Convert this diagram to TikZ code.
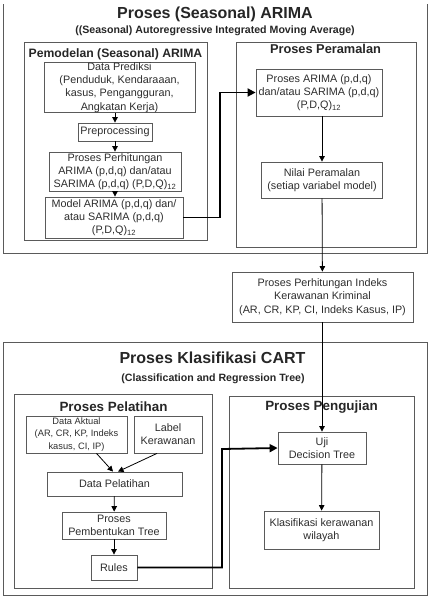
\documentclass[tikz,border=0pt]{standalone}
\usepackage{fontspec}
\setmainfont{Liberation Sans}
\usepackage{tikz}
\usetikzlibrary{arrows.meta}
\tikzstyle{diagram} = [x = 1pt, y = -1pt]
\definecolor{frameColor}{RGB}{90,90,90}
\definecolor{textColor}{RGB}{45,45,45}
\tikzstyle{containerLine} = [color=frameColor, line width=.9pt]
\tikzstyle{boxStyle} = [draw=frameColor, line width=.8pt, inner sep=0pt, align=center, text=textColor, font=\fontsize{10.8}{13.2}\selectfont]
\tikzstyle{smallBoxStyle} = [boxStyle, font=\fontsize{9.3}{12.5}\selectfont]
\tikzstyle{titleText} = [font=\fontsize{16}{18}\selectfont\bfseries, text=black!85]
\tikzstyle{subTitleText} = [font=\fontsize{10.6}{12}\selectfont\bfseries, text=black!85]
\tikzstyle{groupText} = [font=\fontsize{12.2}{14}\selectfont\bfseries, text=black!85]
\tikzstyle{flowArrow} = [-{Triangle[length=5.5pt, width=5.5pt]}, line width=.8pt]
\tikzstyle{jumpArrow} = [-{Triangle[length=8pt, width=8pt]}, line width=1.8pt]
\newcommand{\container}[4]{\draw [containerLine] (#1,#2) rectangle (#3,#4);}
\newcommand{\processBox}[6]{\node [boxStyle, minimum width=#4pt, minimum height=#5pt] (#1) at (#2,#3) {#6};}
\newcommand{\smallBox}[6]{\node [smallBoxStyle, minimum width=#4pt, minimum height=#5pt] (#1) at (#2,#3) {#6};}
\newcommand{\sub}[1]{\textsubscript{#1}}

\begin{document}
\begin{tikzpicture}[diagram]
  \useasboundingbox (0,0) rectangle (431,598);
  % (Seasonal) ARIMA
  \draw [containerLine] (3,4) -- (3,253) -- (427,253) -- (427,4);
  \node [titleText] (arimaTitle) at (215,14) {Proses (Seasonal) ARIMA};
  \node [subTitleText] (arimaSubTitle) at (215,31) {((Seasonal) Autoregressive Integrated Moving Average)};
  \container{24}{42}{207}{240}
  \node [groupText] (pemodelanTitle) at (115.5,54) {Pemodelan (Seasonal) ARIMA};
  \container{236}{42}{416}{247}
  \node [groupText, font=\fontsize{12.8}{14}\selectfont\bfseries] (peramalanTitle) at (325.5,49) {Proses Peramalan};
  \processBox{dataPrediksi}{119.5}{87.5}{151}{49}{Data Prediksi\\(Penduduk, Kendaraaan,\\kasus, Pengangguran,\\Angkatan Kerja)}
  \processBox{preprocessing}{115}{132}{74}{18}{Preprocessing}
  \processBox{perhitungan}{115}{171.5}{132}{39}{Proses Perhitungan\\ARIMA (p,d,q) dan/atau\\SARIMA (p,d,q) (P,D,Q)\sub{12}}
  \processBox{modelArima}{114}{217.5}{138}{41}{Model ARIMA (p,d,q) dan/\\atau SARIMA (p,d,q)\\(P,D,Q)\sub{12}}
  \processBox{prosesArima}{319}{92.5}{126}{47}{Proses ARIMA (p,d,q)\\dan/atau SARIMA (p,d,q)\\(P,D,Q)\sub{12}}
  \processBox{nilaiRamal}{322}{180}{121}{36}{Nilai Peramalan\\(setiap variabel model)}
  % indeks kerawanan
  \processBox{indeksRawan}{322.5}{297}{181}{50}{Proses Perhitungan Indeks\\Kerawanan Kriminal\\(AR, CR, KP, CI, Indeks Kasus, IP)}
  % CART
  \container{3}{342}{427}{595}
  \node [titleText] (cartTitle) at (212.5,358) {Proses Klasifikasi CART};
  \node [subTitleText] (cartSubTitle) at (213,379) {(Classification and Regression Tree)};
  \container{14}{394}{212}{588}
  \node [groupText, font=\fontsize{13.4}{15}\selectfont\bfseries] (pelatihanTitle) at (113.5,407) {Proses Pelatihan};
  \container{229}{396}{414}{588}
  \node [groupText, font=\fontsize{13.4}{15}\selectfont\bfseries] (pengujianTitle) at (321.5,407) {Proses Pengujian};
  \smallBox{dataAktual}{76.5}{434.5}{101}{37}{Data Aktual\\(AR, CR, KP, Indeks\\kasus, CI, IP)}
  \processBox{labelRawan}{168}{434.5}{68}{37}{Label\\Kerawanan}
  \processBox{dataLatih}{114.5}{484}{135}{24}{Data Pelatihan}
  \processBox{bentukTree}{114}{525.5}{104}{27}{Proses\\Pembentukan Tree}
  \processBox{rules}{114}{567.5}{46}{25}{Rules}
  \processBox{ujiTree}{322}{448}{88}{32}{Uji\\Decision Tree}
  \processBox{klasifikasi}{321.5}{530}{115}{38}{Klasifikasi kerawanan\\wilayah}
  % connectors
  \draw [flowArrow] (preprocessing.north |- dataPrediksi.south) -- (preprocessing.north);
  \draw [flowArrow] (preprocessing) -- (perhitungan);
  \draw [flowArrow] (perhitungan.south) -- (perhitungan.south |- modelArima.north);
  \draw [jumpArrow] (modelArima.east) -| (220,92.5) -- (prosesArima.west);
  \draw [flowArrow] (nilaiRamal.north |- prosesArima.south) -- (nilaiRamal.north);
  \draw [flowArrow] (nilaiRamal) -- (indeksRawan);
  \draw [flowArrow] (ujiTree.north |- indeksRawan.south) -- (ujiTree.north);
  \draw [flowArrow] (ujiTree) -- (klasifikasi);
  \draw [flowArrow] ([xshift=20pt]dataAktual.south) -- ([xshift=-1.5pt]dataLatih.north);
  \draw [flowArrow] ([xshift=-11pt]labelRawan.south) -- ([xshift=3.5pt]dataLatih.north);
  \draw [flowArrow] (dataLatih) -- (bentukTree);
  \draw [flowArrow] (bentukTree) -- (rules);
  \draw [jumpArrow] (rules.east) -| (222,449) -- (ujiTree.west);
\end{tikzpicture}
\end{document}
